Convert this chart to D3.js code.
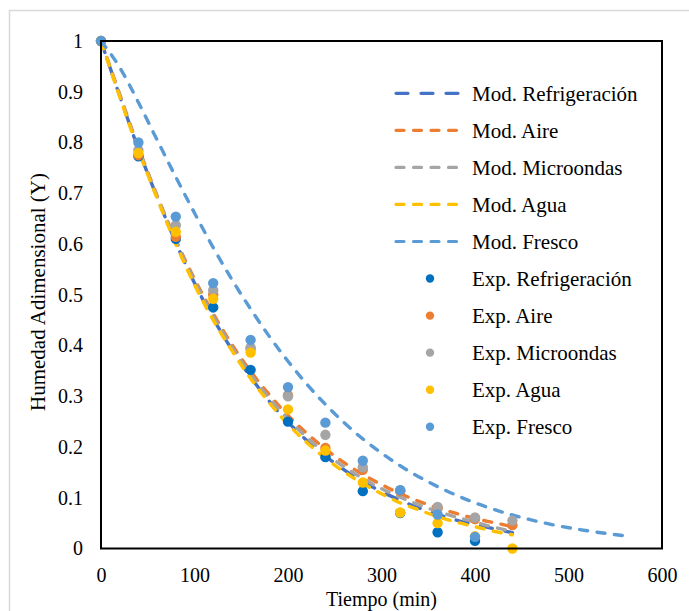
<!DOCTYPE html>
<html><head><meta charset="utf-8">
<script src="https://cdn.jsdelivr.net/npm/d3@7"></script>
<style>
body{margin:0;background:#fff;}
text{font-family:"Liberation Serif","Times New Roman",serif;fill:#000;}
</style></head>
<body><svg id="c" width="689" height="611"></svg>
<script>
// ---- data ----
const expTimes = [0, 40, 80, 120, 160, 200, 240, 280, 320, 360, 400, 440];
const expRefrigeracion = [1, 0.773, 0.610, 0.475, 0.352, 0.250, 0.180, 0.113, 0.070, 0.032, 0.015];
const expAire          = [1, 0.775, 0.614, 0.500, 0.393, 0.302, 0.198, 0.155, 0.113, 0.080, 0.058, 0.046];
const expMicroondas    = [1, 0.785, 0.637, 0.509, 0.396, 0.300, 0.224, 0.160, 0.115, 0.082, 0.061, 0.055];
const expAgua          = [1, 0.779, 0.624, 0.492, 0.386, 0.274, 0.193, 0.130, 0.071, 0.050, 0.024, 0.000];
const expFresco        = [1, 0.800, 0.654, 0.523, 0.411, 0.318, 0.248, 0.173, 0.115, 0.067, 0.023];

const modTimes = [0,20,40,60,80,100,120,140,160,180,200,220,240,260,280,300,320,340,360,380,400,420,440];
const modRefrigeracion = [1,0.892,0.787,0.692,0.603,0.523,0.453,0.392,0.338,0.290,0.249,0.213,0.182,0.155,0.132,0.112,0.095,0.080,0.067,0.056,0.047,0.039,0.031];
const modAire          = [1,0.895,0.790,0.695,0.608,0.531,0.463,0.402,0.349,0.303,0.262,0.227,0.196,0.169,0.146,0.126,0.108,0.093,0.080,0.069,0.059,0.051,0.043];
const modMicroondas    = [1,0.893,0.789,0.694,0.606,0.527,0.458,0.397,0.343,0.296,0.255,0.219,0.188,0.161,0.138,0.118,0.101,0.086,0.073,0.062,0.052,0.042,0.034];
const modAgua          = [1,0.890,0.785,0.690,0.600,0.520,0.450,0.390,0.335,0.287,0.245,0.209,0.178,0.151,0.128,0.108,0.090,0.076,0.063,0.052,0.043,0.034,0.027];
const fresTimes = [0,20,40,60,80,100,120,140,160,180,200,220,240,260,280,300,320,360,400,440,480,520,560];
const modFresco = [1,0.948,0.879,0.805,0.732,0.661,0.593,0.530,0.472,0.418,0.369,0.324,0.284,0.248,0.216,0.188,0.163,0.122,0.090,0.066,0.048,0.035,0.025];

const xTicks = [0,100,200,300,400,500,600];
const yTicks = [0,0.1,0.2,0.3,0.4,0.5,0.6,0.7,0.8,0.9,1];
const xTitle = "Tiempo (min)";
const yTitle = "Humedad Adimensional (Y)";

const modSeries = [
  {name:"Mod. Refrigeración", t:modTimes, v:modRefrigeracion, color:"#4472C4", dash:"12,13"},
  {name:"Mod. Aire", t:modTimes, v:modAire, color:"#ED7D31", dash:"8,9.5"},
  {name:"Mod. Microondas", t:modTimes, v:modMicroondas, color:"#A5A5A5", dash:"8,9.5"},
  {name:"Mod. Agua", t:modTimes, v:modAgua, color:"#FFC000", dash:"8,9.5"},
  {name:"Mod. Fresco", t:fresTimes, v:modFresco, color:"#5B9BD5", dash:"8,9.5"}
];
const expSeries = [
  {name:"Exp. Refrigeración", v:expRefrigeracion, color:"#0070C0"},
  {name:"Exp. Aire", v:expAire, color:"#ED7D31"},
  {name:"Exp. Microondas", v:expMicroondas, color:"#A5A5A5"},
  {name:"Exp. Agua", v:expAgua, color:"#FFC000"},
  {name:"Exp. Fresco", v:expFresco, color:"#5B9BD5"}
];

// ---- drawing ----
const svg = d3.select("#c");
const L=101, R=662, T=41, B=548.5;
const x = d3.scaleLinear().domain([0,600]).range([L,R]);
const y = d3.scaleLinear().domain([0,1]).range([B,T]);

svg.append("rect").attr("x",9.5).attr("y",10.5).attr("width",690).attr("height",620)
  .attr("fill","#fff").attr("stroke","#D9D9D9").attr("stroke-width",1.5);

const line = d3.line().x(d=>x(d[0])).y(d=>y(d[1])).curve(d3.curveMonotoneX);
const plot = svg.append("g");
modSeries.forEach(s=>{
  plot.append("path").datum(s.t.map((t,i)=>[t,s.v[i]]))
    .attr("d",line).attr("fill","none").attr("stroke",s.color)
    .attr("stroke-width",3.4).attr("stroke-dasharray",s.dash).attr("stroke-linecap","round");
});
expSeries.forEach(s=>{
  plot.selectAll(null).data(s.v.map((v,i)=>[expTimes[i],v])).enter().append("circle")
    .attr("cx",d=>x(d[0])).attr("cy",d=>y(d[1])).attr("r",5.2).attr("fill",s.color);
});

svg.append("rect").attr("x",L).attr("y",T).attr("width",R-L).attr("height",B-T)
  .attr("fill","none").attr("stroke","#000").attr("stroke-width",2);

const fs = 20;
const xa = svg.append("g").attr("transform",`translate(0,${B})`)
  .call(d3.axisBottom(x).tickValues(xTicks).tickSize(0).tickPadding(19).tickFormat(d3.format("d")));
xa.select(".domain").remove();
xa.selectAll("text").style("font-size",fs+"px").style("font-family","Liberation Serif");
const ya = svg.append("g").attr("transform",`translate(${L},0)`)
  .call(d3.axisLeft(y).tickValues(yTicks).tickSize(0).tickPadding(18).tickFormat(d=>String(+d.toFixed(1))));
ya.select(".domain").remove();
ya.selectAll("text").style("font-size",fs+"px").style("font-family","Liberation Serif");

svg.append("text").attr("x",(L+R)/2).attr("y",606).attr("text-anchor","middle")
  .style("font-size",fs+"px").text(xTitle);
svg.append("text").attr("transform","translate(45,292) rotate(-90)").attr("text-anchor","middle")
  .style("font-size","21px").text(yTitle);

// legend
const legY0 = 93.3, legDy = 37.05;
const leg = svg.append("g");
modSeries.forEach((s,i)=>{
  const yy = legY0 + i*legDy;
  leg.append("line").attr("x1",396).attr("x2",464).attr("y1",yy).attr("y2",yy)
    .attr("stroke",s.color).attr("stroke-width",3.2).attr("stroke-dasharray",s.dash).attr("stroke-linecap","round");
  leg.append("text").attr("x",472).attr("y",yy).attr("dy","0.35em").style("font-size","21px").text(s.name);
});
expSeries.forEach((s,i)=>{
  const yy = legY0 + (i+5)*legDy;
  leg.append("circle").attr("cx",430).attr("cy",yy).attr("r",4.2).attr("fill",s.color);
  leg.append("text").attr("x",472).attr("y",yy).attr("dy","0.35em").style("font-size","21px").text(s.name);
});
</script></body></html>
